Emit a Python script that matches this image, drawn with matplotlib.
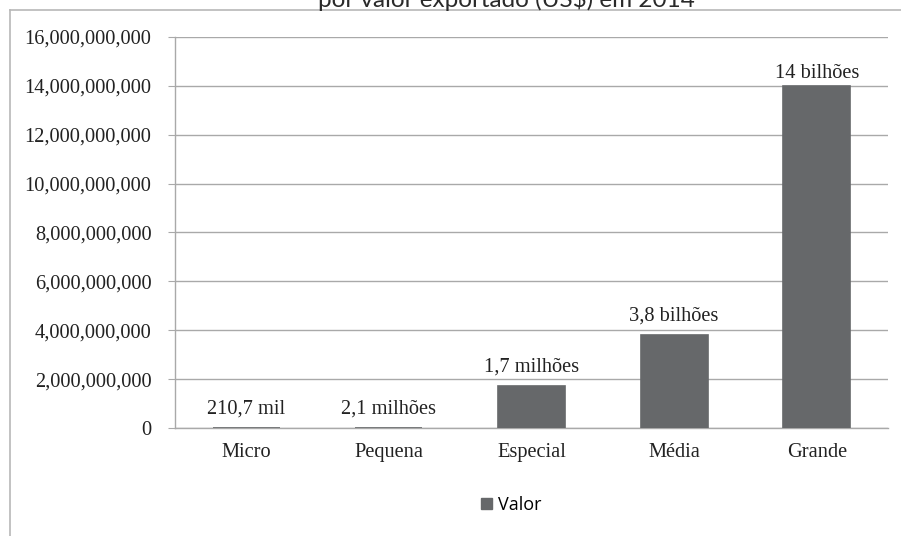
import matplotlib
matplotlib.use("Agg")
import matplotlib.pyplot as plt
from matplotlib.lines import Line2D
from matplotlib.patches import Patch
from matplotlib.ticker import FuncFormatter, MultipleLocator

# Export value by company size (US$), 2014
categories = ["Micro", "Pequena", "Especial", "Média", "Grande"]
values = [210.7e3, 2.1e6, 1.7e9, 3.8e9, 14e9]
value_labels = ["210,7 mil", "2,1 milhões", "1,7 milhões", "3,8 bilhões", "14 bilhões"]
series_name = "Valor"
title = "por valor exportado (US$) em 2014"

BAR = "#66686a"
GRID = "#a9a9a9"
SERIF = "Liberation Serif"

fig = plt.figure(figsize=(9.01, 5.36), dpi=100)
fig.patch.set_facecolor("white")

# outer frame (left and top edges)
fig.add_artist(Line2D([10 / 901, 10 / 901], [0, 1 - 10 / 536],
                      transform=fig.transFigure, color="#b8b8b8", lw=1.2))
fig.add_artist(Line2D([10 / 901, 1], [1 - 10 / 536, 1 - 10 / 536],
                      transform=fig.transFigure, color="#b8b8b8", lw=1.2))

# title, partially cut off at the top edge
fig.text(506 / 901, 1 - 7 / 536, title, ha="center", va="baseline",
         family="Lato", fontsize=17.5, color="#2a2a2a")

ax = fig.add_axes([175 / 901, 1 - 428 / 536, (888 - 175) / 901, (428 - 37) / 536])
x = list(range(len(categories)))
ax.bar(x, values, width=0.47, color=BAR, edgecolor=BAR, linewidth=1.2, zorder=3)

ax.set_xlim(-0.5, len(categories) - 0.5)
ax.set_ylim(0, 16e9)
ax.yaxis.set_major_locator(MultipleLocator(2e9))
ax.yaxis.set_major_formatter(FuncFormatter(lambda v, p: f"{v:,.0f}"))
ax.grid(axis="y", color=GRID, lw=1.0, zorder=0)
ax.set_axisbelow(True)

for s in ["top", "right"]:
    ax.spines[s].set_visible(False)
for s in ["left", "bottom"]:
    ax.spines[s].set_color(GRID)
    ax.spines[s].set_linewidth(1.0)

ax.set_xticks(x)
ax.set_xticklabels(categories)
ax.tick_params(axis="x", length=0, pad=11)
ax.tick_params(axis="y", length=5, color=GRID, pad=12)
for lab in ax.get_xticklabels() + ax.get_yticklabels():
    lab.set_family(SERIF)
    lab.set_fontsize(14.7)
    lab.set_color("#222222")

ymax = ax.get_ylim()[1]
for xi, v, txt in zip(x, values, value_labels):
    off = 6 if v > 0.85 * ymax else 10.5
    ax.annotate(txt, (xi, v), xytext=(0, off), textcoords="offset points",
                ha="center", va="baseline", family=SERIF, fontsize=14.7,
                color="#222222")

handles = [Patch(facecolor=BAR, edgecolor=BAR, label=series_name)]
fig.legend(handles=handles, loc="center", bbox_to_anchor=(511 / 901, 1 - 505 / 536),
           frameon=False, handlelength=0.6, handleheight=0.6, handletextpad=0.35,
           prop={"family": "Open Sans", "size": 13})

fig.savefig("out.png", dpi=100, facecolor="white")
